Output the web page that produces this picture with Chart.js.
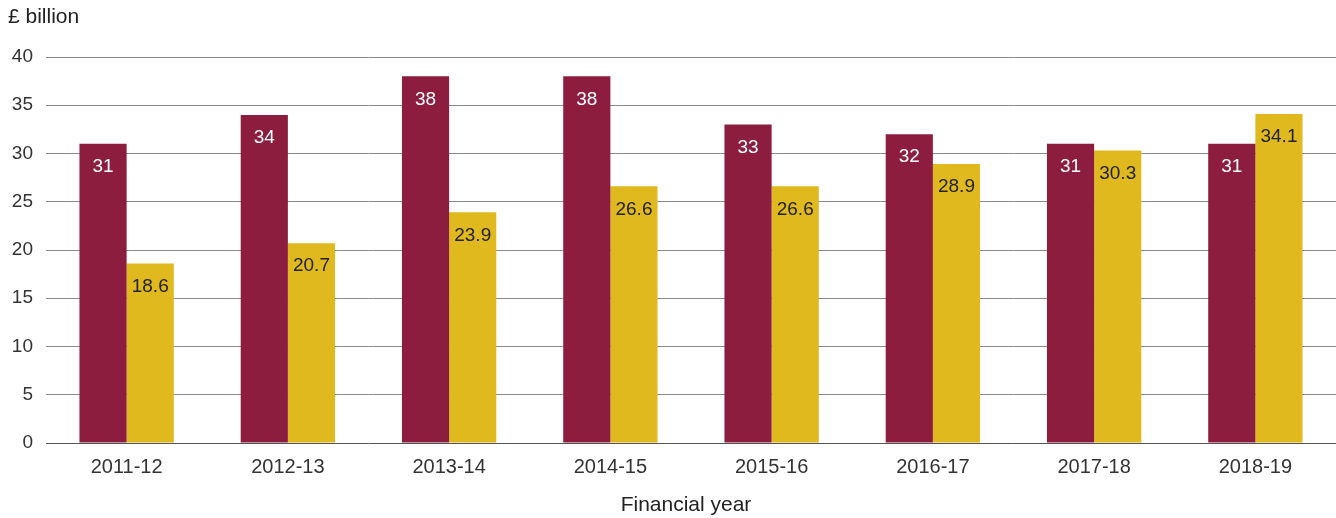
<!DOCTYPE html>
<html>
<head>
<meta charset="utf-8">
<script src="https://cdn.jsdelivr.net/npm/chart.js@4.4.1/dist/chart.umd.min.js"></script>
<style>
  html, body { margin: 0; padding: 0; background: #fff; }
  #wrap { width: 1336px; height: 518px; position: relative; }
</style>
</head>
<body>
<div id="wrap"><canvas id="chart" width="1336" height="518"></canvas></div>
<script>
// Données
const years = ['2011-12', '2012-13', '2013-14', '2014-15', '2015-16', '2016-17', '2017-18', '2018-19'];
const seriesA = [31, 34, 38, 38, 33, 32, 31, 31];
const seriesB = [18.6, 20.7, 23.9, 26.6, 26.6, 28.9, 30.3, 34.1];
const yTicks = [0, 5, 10, 15, 20, 25, 30, 35, 40];

const fontFamily = '"Liberation Sans", Arial, Helvetica, sans-serif';

// Valeurs écrites en haut de chaque barre
const barLabels = {
    id: 'barLabels',
    afterDatasetsDraw(chart) {
        const ctx = chart.ctx;
        ctx.save();
        ctx.font = '19px ' + fontFamily;
        ctx.textAlign = 'center';
        ctx.textBaseline = 'middle';
        chart.data.datasets.forEach((ds, i) => {
            const meta = chart.getDatasetMeta(i);
            meta.data.forEach((bar, j) => {
                ctx.fillStyle = ds.labelColor;
                ctx.fillText(String(ds.data[j]), bar.x, bar.y + 23);
            });
        });
        ctx.restore();
    }
};

// Texte de l'unité et titre de l'axe
const axisTexts = {
    id: 'axisTexts',
    afterDraw(chart) {
        const ctx = chart.ctx;
        ctx.save();
        ctx.fillStyle = '#222';
        ctx.font = '21px ' + fontFamily;
        ctx.textBaseline = 'middle';
        ctx.textAlign = 'left';
        ctx.fillText('£ billion', 8, 17);
        ctx.textAlign = 'center';
        ctx.fillText('Financial year', 686, 505);
        ctx.restore();
    }
};

const ctx = document.getElementById('chart').getContext('2d');
const chart = new Chart(ctx, {
    type: 'bar',
    data: {
        labels: years,
        datasets: [
            {
                data: seriesA,
                backgroundColor: '#8c1d3e',
                labelColor: '#ffffff',
                barPercentage: 1,
                categoryPercentage: 0.585
            },
            {
                data: seriesB,
                backgroundColor: '#dfb91e',
                labelColor: '#222222',
                barPercentage: 1,
                categoryPercentage: 0.585
            }
        ]
    },
    options: {
        responsive: false,
        animation: false,
        devicePixelRatio: 1,
        layout: { padding: { top: 57, right: 0, bottom: 27, left: 0 } },
        plugins: {
            legend: { display: false },
            tooltip: { enabled: false }
        },
        scales: {
            x: {
                grid: { display: false, drawTicks: false },
                border: { display: false },
                ticks: {
                    color: '#333',
                    font: { family: fontFamily, size: 20 },
                    padding: 12
                }
            },
            y: {
                min: 0,
                max: 40,
                afterBuildTicks(axis) {
                    axis.ticks = yTicks.map(v => ({ value: v }));
                },
                afterFit(axis) {
                    axis.width = 46;
                },
                grid: {
                    drawTicks: false,
                    color: (c) => c.tick && c.tick.value === 0 ? '#555' : '#8a8a8a',
                    lineWidth: 1
                },
                border: { display: false },
                ticks: {
                    color: '#333',
                    font: { family: fontFamily, size: 19 },
                    padding: 13
                }
            }
        }
    },
    plugins: [barLabels, axisTexts]
});
</script>
</body>
</html>
